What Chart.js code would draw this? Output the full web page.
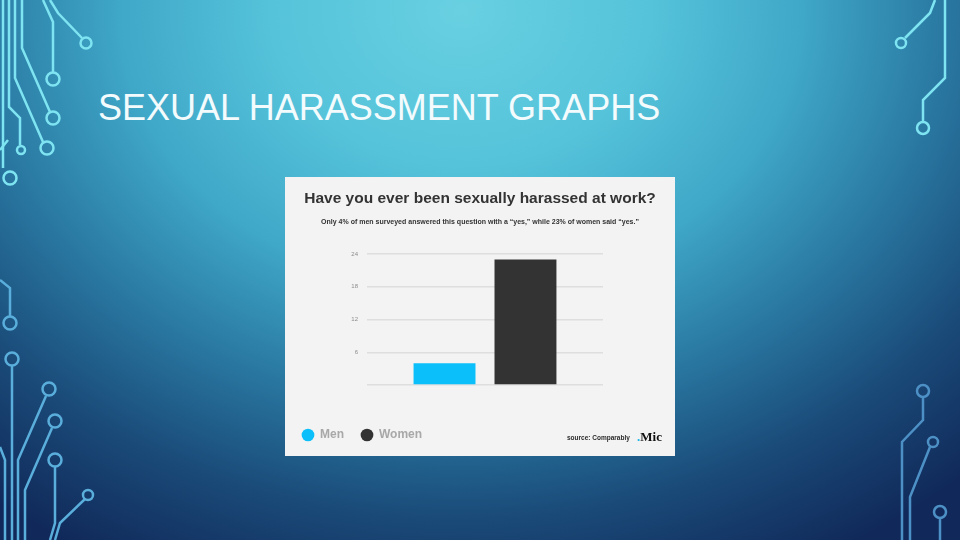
<!DOCTYPE html>
<html>
<head>
<meta charset="utf-8">
<script src="https://cdn.jsdelivr.net/npm/chart.js@4"></script>
<style>
  html, body { margin: 0; padding: 0; }
  body {
    width: 960px; height: 540px; overflow: hidden; position: relative;
    background: radial-gradient(ellipse 760px 620px at 48% 2%, #68d0e1 0%, #55c3da 25%, #3fa7c8 45%, #28759f 65%, #1a4a78 82%, #10295a 100%);
    font-family: 'Liberation Sans', Arial, sans-serif;
  }
  #circuits { position: absolute; left: 0; top: 0; }
  h1 {
    position: absolute; left: 98px; top: 90px; margin: 0;
    font-size: 36px; line-height: 36px; font-weight: normal;
    color: #f3fbfd;
  }
  #card {
    position: absolute; left: 285px; top: 177px; width: 390px; height: 279px;
    background: #f3f3f3;
  }
  #source {
    position: absolute; left: 282px; top: 257px;
    font-size: 6.5px; font-weight: bold; color: #2b2b2b;
  }
  #logo {
    position: absolute; left: 352px; top: 252px;
    font-family: 'Liberation Serif', serif; font-size: 13px; font-weight: bold; color: #111;
  }
  #logo span { color: #19b7e8; }
</style>
</head>
<body>
<svg id="circuits" width="960" height="540" fill="none" stroke-width="2.5">
  <g stroke="#7fe4f1">
    <polyline points="43,0 53,22 53,72"/><circle cx="53" cy="79" r="6.5"/>
    <polyline points="50,0 58,13 82,38"/><circle cx="86" cy="43" r="5.5"/>
    <polyline points="22,0 22,48 50,112"/><circle cx="53" cy="118" r="6.5"/>
    <polyline points="15,0 15,78 43,142"/><circle cx="47" cy="148" r="6.5"/>
    <polyline points="9,0 9,107 20,118 20,145"/><circle cx="21" cy="150" r="4"/>
    <polyline points="0,150 8,140"/><circle cx="10" cy="178" r="6.5"/>
    <polyline points="3,0 3,168"/>
    <polyline points="935,0 930,13 905,38"/><circle cx="901" cy="43" r="5"/>
    <polyline points="945,0 945,78 923,100 923,122"/><circle cx="923" cy="128" r="6"/>
  </g>
  <g stroke="#5aaedb">
    <polyline points="0,280 10,288 10,317"/><circle cx="10" cy="323" r="6.5"/>
    <circle cx="12" cy="359" r="6.5"/><polyline points="12,366 12,540"/>
    <circle cx="49" cy="389" r="6.5"/><polyline points="46,396 18,460 18,540"/>
    <circle cx="55" cy="421" r="6.5"/><polyline points="52,428 25,490 25,540"/>
    <circle cx="55" cy="460" r="6.5"/><polyline points="55,467 55,523 50,540"/>
    <circle cx="88" cy="495" r="5"/><polyline points="85,499 60,523 55,540"/>
    <polyline points="0,447 5,460 5,540"/>
  </g>
  <g stroke="#4d90c6">
    <circle cx="923" cy="391" r="6"/><polyline points="923,397 923,420 902,442 902,540"/>
    <circle cx="933" cy="442" r="5"/><polyline points="930,447 910,497 910,540"/>
    <circle cx="940" cy="512" r="6"/><polyline points="940,518 940,540"/>
  </g>
</svg>

<h1>SEXUAL HARASSMENT GRAPHS</h1>

<div id="card">
  <canvas id="harassChart" width="390" height="279"></canvas>
  <div id="source">source: Comparably</div>
  <div id="logo"><span>.</span>Mic</div>
</div>

<script>
// Data
const categories = ['Have you ever been sexually harassed at work?'];
const seriesNames = ['Men', 'Women'];
const menValues = [4];
const womenValues = [23];
const yTicks = [0, 6, 12, 18, 24];

Chart.defaults.font.family = "'Liberation Sans', Arial, sans-serif";

document.addEventListener('DOMContentLoaded', () => {
    const ctx = document.getElementById('harassChart').getContext('2d');

    const harassChart = new Chart(ctx, {
        type: 'bar',
        data: {
            labels: categories,
            datasets: [{
                label: seriesNames[0],
                data: menValues,
                backgroundColor: '#0bc0fa',
                borderWidth: 0,
                categoryPercentage: 0.686,
                barPercentage: 0.765
            }, {
                label: seriesNames[1],
                data: womenValues,
                backgroundColor: '#333333',
                borderWidth: 0,
                categoryPercentage: 0.686,
                barPercentage: 0.765
            }]
        },
        options: {
            responsive: false,
            animation: false,
            layout: { padding: { bottom: 5 } },
            scales: {
                x: {
                    ticks: { display: false },
                    grid: { display: false },
                    border: { display: false },
                    afterFit: (scale) => { scale.height = 27; }
                },
                y: {
                    min: yTicks[0],
                    max: yTicks[yTicks.length - 1],
                    afterBuildTicks: (scale) => { scale.ticks = yTicks.map(v => ({ value: v })); },
                    ticks: {
                        padding: 9,
                        color: '#8c8c8c',
                        font: { size: 6 },
                        callback: (v) => v === 0 ? '' : v
                    },
                    grid: { color: '#dedede', lineWidth: 1.5, drawTicks: false },
                    border: { display: false },
                    afterFit: (scale) => { scale.width = 82; }
                },
                right: {
                    type: 'linear',
                    position: 'right',
                    ticks: { display: false },
                    grid: { display: false },
                    border: { display: false },
                    afterFit: (scale) => { scale.width = 72; }
                }
            },
            plugins: {
                title: {
                    display: true,
                    text: 'Have you ever been sexually harassed at work?',
                    color: '#333333',
                    font: { size: 15.5, weight: 'bold' },
                    padding: { top: 12, bottom: 0 }
                },
                subtitle: {
                    display: true,
                    text: 'Only 4% of men surveyed answered this question with a “yes,” while 23% of women said “yes.”',
                    color: '#333333',
                    font: { size: 7, weight: 'bold' },
                    padding: { top: 10, bottom: 28 }
                },
                legend: {
                    position: 'bottom',
                    align: 'start',
                    labels: {
                        usePointStyle: true,
                        pointStyle: 'circle',
                        boxWidth: 12,
                        boxHeight: 9,
                        padding: 17,
                        color: '#a8a8a8',
                        font: { size: 12, weight: 'bold' }
                    }
                },
                tooltip: { enabled: false }
            }
        }
    });
});
</script>
</body>
</html>
